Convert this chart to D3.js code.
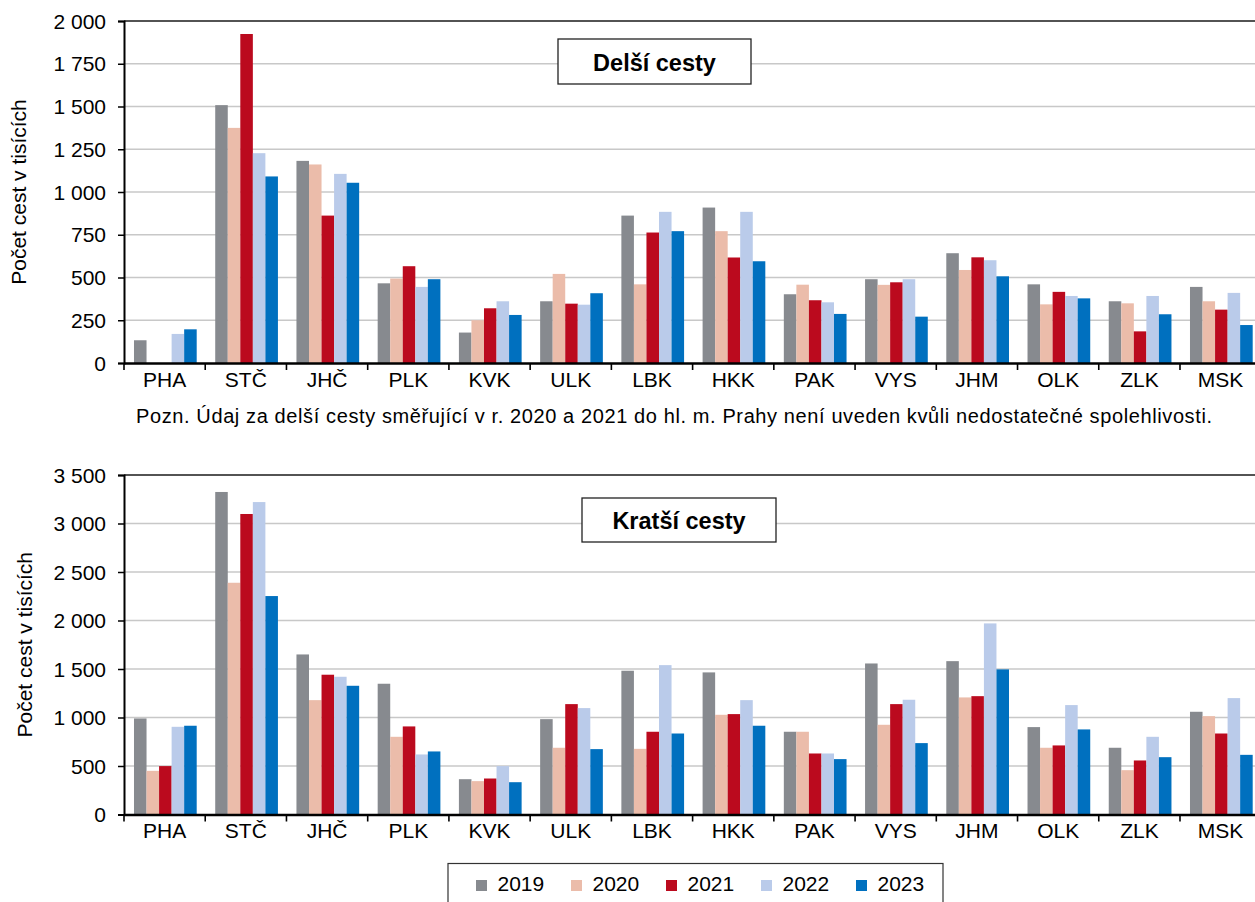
<!DOCTYPE html>
<html><head><meta charset="utf-8">
<script src="https://cdn.jsdelivr.net/npm/d3@7"></script>
<style>
body{margin:0;background:#fff;}
svg{display:block;font-family:"Liberation Sans",Arial,sans-serif;}
</style></head>
<body><svg id="c" width="1255" height="902"></svg>
<script>
const categories = ["PHA","STČ","JHČ","PLK","KVK","ULK","LBK","HKK","PAK","VYS","JHM","OLK","ZLK","MSK"];
const years = ["2019","2020","2021","2022","2023"];
const colors = ["#878a8f","#ebbcaa","#bb0a1e","#bacbea","#0070bf"];

// Delší cesty (thousands); null = not published
const longer2019 = [133,1508,1182,466,178,361,862,909,402,490,642,460,361,445];
const longer2020 = [null,1375,1161,494,250,521,460,771,458,457,544,343,349,361];
const longer2021 = [null,1924,862,566,320,347,763,617,367,472,618,416,185,312];
const longer2022 = [170,1227,1106,445,361,341,884,884,355,490,601,392,392,410];
const longer2023 = [197,1091,1054,490,281,408,771,595,287,271,507,378,285,222];

// Kratší cesty (thousands)
const shorter2019 = [990,3325,1650,1348,364,983,1482,1465,853,1557,1581,901,688,1059];
const shorter2020 = [450,2389,1179,801,344,688,677,1028,853,925,1207,688,457,1014];
const shorter2021 = [499,3098,1441,908,371,1138,853,1035,629,1138,1220,712,557,835];
const shorter2022 = [904,3221,1420,619,499,1097,1540,1179,629,1183,1970,1128,801,1200];
const shorter2023 = [915,2252,1327,650,333,674,835,915,571,736,1496,877,591,615];

const longTicks = [0,250,500,750,1000,1250,1500,1750,2000];
const shortTicks = [0,500,1000,1500,2000,2500,3000,3500];

const yLabel = "Počet cest v tisících";
const note = "Pozn. Údaj za delší cesty směřující v r. 2020 a 2021 do hl. m. Prahy není uveden kvůli nedostatečné spolehlivosti.";

const svg = d3.select("#c");
const FONT = "Liberation Sans, Arial, sans-serif";
const FS = 21;

function panel(cfg){
  const {series, ticks, top, bottom, title, titleBox, labelX} = cfg;
  const left = 124, step = 81.23;
  const x0 = d3.scaleBand().domain(categories).range([left, left + step*categories.length]).padding(0);
  const bw = x0.bandwidth();
  const x1 = d3.scaleBand().domain(years).range([bw*0.123, bw*0.895]).padding(0);
  const y = d3.scaleLinear().domain([0, d3.max(ticks)]).range([bottom, top]);
  const g = svg.append("g");

  // gridlines
  g.append("g").selectAll("line").data(ticks.filter(t => t>0 && t<d3.max(ticks))).join("line")
    .attr("x1", left).attr("x2", 1255).attr("y1", d=>y(d)).attr("y2", d=>y(d))
    .attr("stroke", "#c8c8c8").attr("stroke-width", 1.5);
  // top frame
  g.append("line").attr("x1", left).attr("x2", 1255).attr("y1", y(d3.max(ticks))).attr("y2", y(d3.max(ticks)))
    .attr("stroke", "#1a1a1a").attr("stroke-width", 1.6);

  // bars
  const groups = g.append("g").selectAll("g").data(categories).join("g")
    .attr("transform", d => `translate(${x0(d)},0)`);
  groups.selectAll("rect").data((c,i) => years.map((yr,j) => ({yr, j, v: series[j][i]})).filter(d => d.v != null))
    .join("rect")
    .attr("x", d => x1(d.yr)).attr("width", x1.bandwidth())
    .attr("y", d => y(d.v)).attr("height", d => y(0) - y(d.v))
    .attr("fill", d => colors[d.j]);

  // y axis
  const ya = d3.axisLeft(y).tickValues(ticks).tickSize(6).tickPadding(12).tickFormat(d => d3.format(",")(d).replace(/,/g, " "));
  const yg = g.append("g").attr("transform", `translate(${left},0)`).call(ya);
  yg.select(".domain").attr("stroke", "#000").attr("stroke-width", 2);
  yg.selectAll(".tick line").attr("stroke", "#000").attr("stroke-width", 1.5);
  yg.selectAll("text").attr("font-size", FS).attr("fill", "#000").attr("font-family", FONT).attr("dy", "0.34em");

  // x axis
  const xa = d3.axisBottom(x0).tickSize(0).tickPadding(9);
  const xg = g.append("g").attr("transform", `translate(0,${bottom})`).call(xa);
  xg.select(".domain").attr("stroke", "#000").attr("stroke-width", 2.5).attr("d", `M${left},0.5H1255`);
  xg.selectAll("text").attr("font-size", FS).attr("fill", "#000").attr("font-family", FONT);
  // boundary ticks
  g.append("g").selectAll("line").data(categories).join("line")
    .attr("x1", d => x0(d)).attr("x2", d => x0(d)).attr("y1", bottom).attr("y2", bottom+7)
    .attr("stroke", "#000").attr("stroke-width", 1.6);

  // y label
  g.append("text").attr("transform", `translate(${labelX},${(top+bottom)/2}) rotate(-90)`)
    .attr("text-anchor", "middle").attr("font-size", FS).attr("fill", "#000").text(yLabel);

  // title box
  g.append("rect").attr("x", titleBox[0]).attr("y", titleBox[1]).attr("width", titleBox[2]).attr("height", titleBox[3])
    .attr("fill", "#fff").attr("stroke", "#222").attr("stroke-width", 1.3);
  g.append("text").attr("x", titleBox[0]+titleBox[2]/2).attr("y", titleBox[1]+titleBox[3]/2+9)
    .attr("text-anchor", "middle").attr("font-size", 23.5).attr("font-weight", "bold").attr("fill", "#000").text(title);
}

panel({series:[longer2019,longer2020,longer2021,longer2022,longer2023], ticks: longTicks,
  top: 21, bottom: 363, title: "Delší cesty", titleBox: [558, 39, 193, 45], labelX: 26});
panel({series:[shorter2019,shorter2020,shorter2021,shorter2022,shorter2023], ticks: shortTicks,
  top: 475, bottom: 814.5, title: "Kratší cesty", titleBox: [582, 498, 194, 44], labelX: 32});

svg.append("text").attr("x", 136).attr("y", 423)
  .attr("font-size", 20).attr("fill", "#000")
  .attr("textLength", 1076).attr("lengthAdjust", "spacing").text(note);

// legend
const lg = svg.append("g");
lg.append("rect").attr("x", 448).attr("y", 863.5).attr("width", 495).attr("height", 45)
  .attr("fill", "#fff").attr("stroke", "#333").attr("stroke-width", 1.2);
const li = lg.selectAll("g").data(years).join("g")
  .attr("transform", (d,i) => `translate(${476 + i*95},0)`);
li.append("rect").attr("x", 0).attr("y", 880).attr("width", 11).attr("height", 11).attr("fill", (d,i) => colors[i]);
li.append("text").attr("x", 21.5).attr("y", 891).attr("font-size", FS).attr("fill", "#000").text(d => d);
</script></body></html>
